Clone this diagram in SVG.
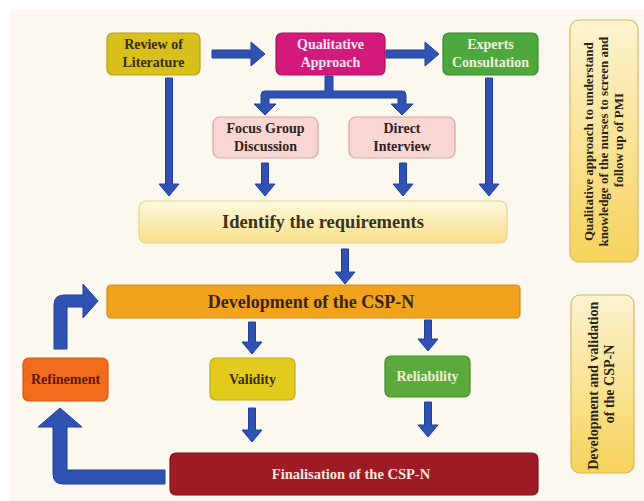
<svg xmlns="http://www.w3.org/2000/svg" width="644" height="501" viewBox="0 0 644 501">
<defs>
<linearGradient id="gIdent" x1="0" y1="0" x2="0" y2="1"><stop offset="0" stop-color="#fdf9dc"/><stop offset="1" stop-color="#f8e08a"/></linearGradient>
<linearGradient id="gPanel" x1="0" y1="0" x2="0" y2="1"><stop offset="0" stop-color="#fdf3cf"/><stop offset="1" stop-color="#f6d35c"/></linearGradient>
<style>
.t{font-family:"Liberation Serif","Times New Roman",serif;font-weight:bold;text-anchor:middle}
.arr{fill:#2f52b3;stroke:#22409a;stroke-width:1}
.box{stroke-width:1.2}
</style>
</defs>
<rect x="0" y="0" width="644" height="501" fill="#ffffff"/>
<rect x="10" y="9" width="634" height="492" fill="#fbf8ef"/>

<g id="connectors">
<path class="arr" d="M212 50 L251 50 L251 42 L265 54 L251 66 L251 58 L212 58 Z"/>
<path class="arr" d="M386 50 L425 50 L425 42 L439 54 L425 66 L425 58 L386 58 Z"/>
<path class="arr" d="M325 76 L333 76 L333 91 L402 91 Q406 91 406 95 L406 104 L413 104 L402 115 L391 104 L398 104 L398 98 L269 98 L269 104 L276 104 L265 115 L254 104 L261 104 L261 95 Q261 91 265 91 L325 91 Z"/>
<path class="arr" d="M165.5 78 L172.5 78 L172.5 184 L179 184 L169 196 L159 184 L165.5 184 Z"/>
<path class="arr" d="M261.5 163 L268.5 163 L268.5 184 L275 184 L265 196 L255 184 L261.5 184 Z"/>
<path class="arr" d="M399.5 163 L406.5 163 L406.5 184 L413 184 L403 196 L393 184 L399.5 184 Z"/>
<path class="arr" d="M485.5 78 L492.5 78 L492.5 184 L499 184 L489 196 L479 184 L485.5 184 Z"/>
<path class="arr" d="M341.5 249 L348.5 249 L348.5 272 L355 272 L345 284 L335 272 L341.5 272 Z"/>
<path class="arr" d="M248.5 322 L255.5 322 L255.5 342 L262 342 L252 354 L242 342 L248.5 342 Z"/>
<path class="arr" d="M424.5 320 L431.5 320 L431.5 339 L438 339 L428 351 L418 339 L424.5 339 Z"/>
<path class="arr" d="M248.5 408 L255.5 408 L255.5 430 L262 430 L252 442 L242 430 L248.5 430 Z"/>
<path class="arr" d="M424.5 402 L431.5 402 L431.5 425 L438 425 L428 437 L418 425 L424.5 425 Z"/>
<path class="arr" d="M54 349 L54 305 Q54 295 64 295 L83 295 L83 284 L98 301 L83 318 L83 307 L67 307 L67 349 Z"/>
<path class="arr" d="M165 470 L67 470 L67 427 L82 427 L60 408 L38 427 L53 427 L53 474 Q53 484 63 484 L165 484 Z"/>
</g>

<g id="review">
<rect class="box" x="107" y="33" width="93" height="42" rx="6" fill="#d9c11b" stroke="#b9a210"/>
<text class="t" x="153.5" y="49" font-size="14" fill="#3a2c0c">Review of</text>
<text class="t" x="153.5" y="67" font-size="14" fill="#3a2c0c">Literature</text>
</g>
<g id="qualitative">
<rect class="box" x="276" y="33" width="109" height="42" rx="6" fill="#d4197c" stroke="#b0105f"/>
<text class="t" x="330.5" y="49" font-size="14" fill="#fbe6ef">Qualitative</text>
<text class="t" x="330.5" y="67" font-size="14" fill="#fbe6ef">Approach</text>
</g>
<g id="experts">
<rect class="box" x="443" y="33" width="95" height="42" rx="6" fill="#4da83e" stroke="#3a8a2c"/>
<text class="t" x="490.5" y="49" font-size="14" fill="#eef5dc">Experts</text>
<text class="t" x="490.5" y="67" font-size="14" fill="#eef5dc">Consultation</text>
</g>
<g id="focus">
<rect class="box" x="213" y="117" width="105" height="41" rx="7" fill="#f9d6d2" stroke="#d9a3a0"/>
<text class="t" x="265.5" y="133" font-size="14" fill="#2e2222">Focus Group</text>
<text class="t" x="265.5" y="151" font-size="14" fill="#2e2222">Discussion</text>
</g>
<g id="direct">
<rect class="box" x="349" y="117" width="106" height="41" rx="7" fill="#f9d6d2" stroke="#d9a3a0"/>
<text class="t" x="402" y="133" font-size="14" fill="#2e2222">Direct</text>
<text class="t" x="402" y="151" font-size="14" fill="#2e2222">Interview</text>
</g>
<g id="identify">
<rect class="box" x="139" y="201" width="368" height="42" rx="7" fill="url(#gIdent)" stroke="#e6d48e"/>
<text class="t" x="323" y="228" font-size="18.5" fill="#3a3222">Identify the requirements</text>
</g>
<g id="development">
<rect class="box" x="107" y="285" width="413" height="33" rx="4" fill="#f1a31e" stroke="#d48a12"/>
<text class="t" x="311" y="308" font-size="18" fill="#3a2410">Development of the CSP-N</text>
</g>
<g id="refinement">
<rect class="box" x="23" y="358" width="85" height="43" rx="6" fill="#f26c1d" stroke="#d45812"/>
<text class="t" x="65.5" y="384" font-size="14" fill="#5a1a10">Refinement</text>
</g>
<g id="validity">
<rect class="box" x="210" y="358" width="85" height="42" rx="6" fill="#e2cb1d" stroke="#c5ae10"/>
<text class="t" x="252.5" y="384" font-size="14" fill="#3a2e10">Validity</text>
</g>
<g id="reliability">
<rect class="box" x="385" y="356" width="85" height="41" rx="6" fill="#5aab3c" stroke="#448e2b"/>
<text class="t" x="427.5" y="381" font-size="14" fill="#f2f0d4">Reliability</text>
</g>
<g id="finalisation">
<rect class="box" x="170" y="453" width="368" height="42" rx="6" fill="#9e1a24" stroke="#7e1018"/>
<text class="t" x="351" y="479" font-size="14.5" fill="#f6e6e0">Finalisation of the CSP-N</text>
</g>
<g id="panel1">
<rect class="box" x="570" y="20" width="68" height="242" rx="9" fill="url(#gPanel)" stroke="#d7b95c"/>
<text class="t" transform="translate(604,140) rotate(-90)" font-size="13" fill="#2a2212">
<tspan x="0" y="-11">Qualitative approach to understand</tspan>
<tspan x="0" y="4">knowledge of the nurses to screen and</tspan>
<tspan x="0" y="19">follow up of PMI</tspan>
</text>
</g>
<g id="panel2">
<rect class="box" x="571" y="295" width="63" height="178" rx="9" fill="url(#gPanel)" stroke="#d7b95c"/>
<text class="t" transform="translate(602.5,384) rotate(-90)" font-size="14" fill="#2a2212">
<tspan x="0" y="-5">Development and validation</tspan>
<tspan x="0" y="11">of the CSP-N</tspan>
</text>
</g>
</svg>
